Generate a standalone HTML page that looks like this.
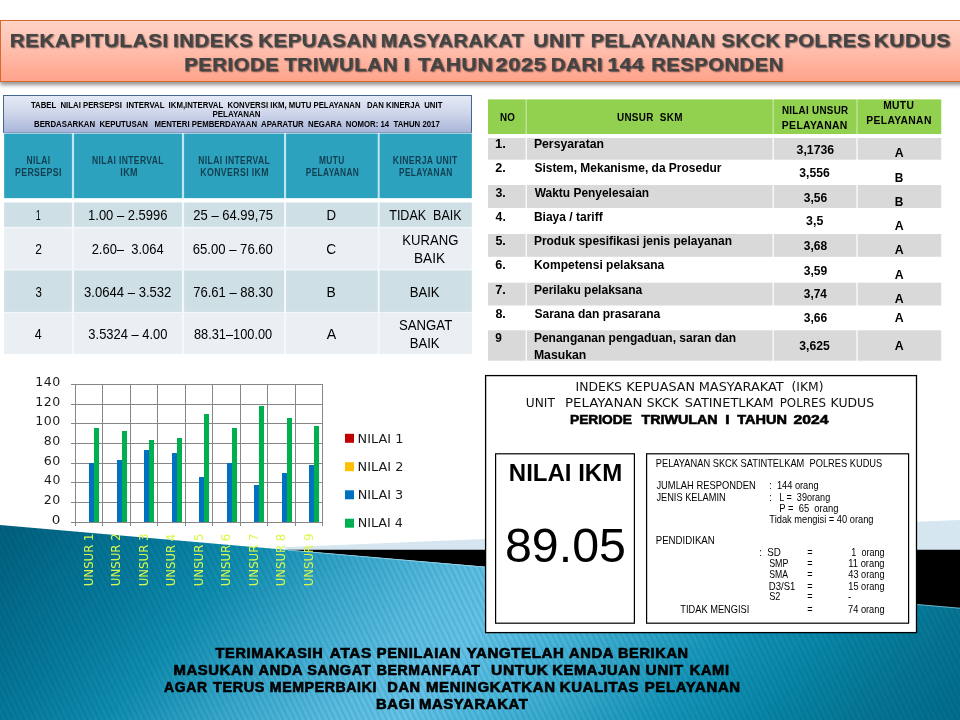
<!DOCTYPE html>
<html lang="id">
<head>
<meta charset="utf-8">
<title>Rekapitulasi Indeks Kepuasan Masyarakat - SKCK Polres Kudus</title>
<style>
html,body{margin:0;padding:0;background:#fff;}
body{width:960px;height:720px;position:relative;overflow:hidden;font-family:"Liberation Sans",sans-serif;}
.abs{position:absolute;}
.t{position:absolute;left:0;top:0;line-height:1;white-space:pre;transform-origin:0 0;margin:0;padding:0;}
section,header,footer{position:absolute;left:0;top:0;width:0;height:0;}
#bg{position:absolute;left:0;top:0;width:960px;height:720px;}
#banner-box{position:absolute;left:0;top:19.8px;width:966px;height:62.2px;box-sizing:border-box;border:1.2px solid #d46a2e;
  background:linear-gradient(#ffd3c7 0%,#ffbfae 45%,#ffa38a 100%);box-shadow:0 3px 4px rgba(0,0,0,.42);}
#banner .t{text-shadow:1px 1px 1.5px rgba(0,0,0,.55);}
#cap-box{position:absolute;left:3px;top:95px;width:469px;height:37.6px;box-sizing:border-box;border:1.1px solid #44668f;border-bottom-color:#8a9ac0;
  background:linear-gradient(#e6eaf6 0%,#cdd5ea 50%,#a9b6da 100%);}
.cell{position:absolute;}
</style>
</head>
<body>
<svg id="bg" width="960" height="720" viewBox="0 0 960 720">
  <defs>
    <linearGradient id="tg" gradientUnits="userSpaceOnUse" x1="229.8" y1="192.8" x2="995.9" y2="835.6">
      <stop offset="0.0" stop-color="#025a76"/>
      <stop offset="0.062" stop-color="#026483"/>
      <stop offset="0.168" stop-color="#067a9d"/>
      <stop offset="0.243" stop-color="#0f8daf"/>
      <stop offset="0.335" stop-color="#3aa9ce"/>
      <stop offset="0.416" stop-color="#5abde1"/>
      <stop offset="0.47" stop-color="#64c3e8"/>
      <stop offset="0.523" stop-color="#4db9de"/>
      <stop offset="0.595" stop-color="#32a7ca"/>
      <stop offset="0.664" stop-color="#1595b9"/>
      <stop offset="0.757" stop-color="#0783a4"/>
      <stop offset="0.822" stop-color="#067694"/>
      <stop offset="0.882" stop-color="#026e8f"/>
      <stop offset="1.0" stop-color="#026483"/>
    </linearGradient>
    <pattern id="st" width="5.75" height="20" patternUnits="userSpaceOnUse" patternTransform="skewX(26)">
      <rect x="0" y="0" width="2.3" height="20" fill="#002a3c" fill-opacity="0.11"/>
    </pattern>
  </defs>
  <polygon points="283,547.2 960,520 960,551 290,551" fill="#d6e6f0"/>
  <polygon points="286,549.7 960,549.7 960,609 500,568" fill="#000"/>
  <polygon points="0,525 960,608 960,720 0,720" fill="url(#tg)"/>
  <polygon points="0,525 960,608 960,720 0,720" fill="url(#st)"/>
  <line x1="288" y1="550.1" x2="960" y2="608.2" stroke="#9fd9ee" stroke-width="0.9" stroke-opacity="0.75"/>
</svg>

<header id="banner">
  <div id="banner-box"></div>
<div class="t" style="font-size:17.8px;color:#444444;transform:translate(9.73px,33.10px) scaleX(1.1574);font-weight:bold;letter-spacing:0.5px;-webkit-text-stroke:0.25px #444444;">REKAPITULASI</div>
<div class="t" style="font-size:17.8px;color:#444444;transform:translate(173.04px,33.10px) scaleX(1.1430);font-weight:bold;letter-spacing:0.5px;-webkit-text-stroke:0.25px #444444;">INDEKS</div>
<div class="t" style="font-size:17.8px;color:#444444;transform:translate(258.24px,33.10px) scaleX(1.1450);font-weight:bold;letter-spacing:0.5px;-webkit-text-stroke:0.25px #444444;">KEPUASAN</div>
<div class="t" style="font-size:17.8px;color:#444444;transform:translate(380.77px,33.10px) scaleX(1.1179);font-weight:bold;letter-spacing:0.5px;-webkit-text-stroke:0.25px #444444;">MASYARAKAT</div>
<div class="t" style="font-size:17.8px;color:#444444;transform:translate(533.32px,33.10px) scaleX(1.1779);font-weight:bold;letter-spacing:0.5px;-webkit-text-stroke:0.25px #444444;">UNIT</div>
<div class="t" style="font-size:17.8px;color:#444444;transform:translate(590.77px,33.10px) scaleX(1.1150);font-weight:bold;letter-spacing:0.5px;-webkit-text-stroke:0.25px #444444;">PELAYANAN</div>
<div class="t" style="font-size:17.8px;color:#444444;transform:translate(721.43px,33.10px) scaleX(1.1310);font-weight:bold;letter-spacing:0.5px;-webkit-text-stroke:0.25px #444444;">SKCK</div>
<div class="t" style="font-size:17.8px;color:#444444;transform:translate(784.25px,33.10px) scaleX(1.1364);font-weight:bold;letter-spacing:0.5px;-webkit-text-stroke:0.25px #444444;">POLRES</div>
<div class="t" style="font-size:17.8px;color:#444444;transform:translate(873.71px,33.10px) scaleX(1.1729);font-weight:bold;letter-spacing:0.5px;-webkit-text-stroke:0.25px #444444;">KUDUS</div>
<div class="t" style="font-size:17.8px;color:#444444;transform:translate(184.25px,56.90px) scaleX(1.1371);font-weight:bold;letter-spacing:0.5px;-webkit-text-stroke:0.25px #444444;">PERIODE</div>
<div class="t" style="font-size:17.8px;color:#444444;transform:translate(284.27px,56.90px) scaleX(1.1519);font-weight:bold;letter-spacing:0.5px;-webkit-text-stroke:0.25px #444444;">TRIWULAN</div>
<div class="t" style="font-size:17.8px;color:#444444;transform:translate(403.41px,56.90px) scaleX(1.2593);font-weight:bold;letter-spacing:0.5px;-webkit-text-stroke:0.25px #444444;">I</div>
<div class="t" style="font-size:17.8px;color:#444444;transform:translate(417.76px,56.90px) scaleX(1.1929);font-weight:bold;letter-spacing:0.5px;-webkit-text-stroke:0.25px #444444;">TAHUN</div>
<div class="t" style="font-size:17.8px;color:#444444;transform:translate(495.56px,56.90px) scaleX(1.2270);font-weight:bold;letter-spacing:0.5px;-webkit-text-stroke:0.25px #444444;">2025</div>
<div class="t" style="font-size:17.8px;color:#444444;transform:translate(550.73px,56.90px) scaleX(1.1528);font-weight:bold;letter-spacing:0.5px;-webkit-text-stroke:0.25px #444444;">DARI</div>
<div class="t" style="font-size:17.8px;color:#444444;transform:translate(607.50px,56.90px) scaleX(1.1825);font-weight:bold;letter-spacing:0.5px;-webkit-text-stroke:0.25px #444444;">144</div>
<div class="t" style="font-size:17.8px;color:#444444;transform:translate(651.26px,56.90px) scaleX(1.1310);font-weight:bold;letter-spacing:0.5px;-webkit-text-stroke:0.25px #444444;">RESPONDEN</div>
</header>

<section id="tbl-left">
  <div id="cap-box"></div>
<svg class="abs" style="left:0;top:0" width="960" height="400" viewBox="0 0 960 400">
<rect x="4.2" y="133.6" width="467.6" height="64.5" fill="#bfe6f0"/>
<rect x="4.2" y="202.5" width="467.6" height="151.5" fill="#f4f8fa"/>
<rect x="4.2" y="133.6" width="67.7" height="64.5" fill="#2da2bf"/>
<rect x="74.1" y="133.6" width="107.8" height="64.5" fill="#2da2bf"/>
<rect x="184.1" y="133.6" width="99.9" height="64.5" fill="#2da2bf"/>
<rect x="286.1" y="133.6" width="91.6" height="64.5" fill="#2da2bf"/>
<rect x="379.7" y="133.6" width="92.1" height="64.5" fill="#2da2bf"/>
<rect x="4.2" y="202.5" width="67.7" height="24.3" fill="#cfdfe6"/>
<rect x="74.1" y="202.5" width="107.8" height="24.3" fill="#cfdfe6"/>
<rect x="184.1" y="202.5" width="99.9" height="24.3" fill="#cfdfe6"/>
<rect x="286.1" y="202.5" width="91.6" height="24.3" fill="#cfdfe6"/>
<rect x="379.7" y="202.5" width="92.1" height="24.3" fill="#cfdfe6"/>
<rect x="4.2" y="228.4" width="67.7" height="40.7" fill="#e9eff3"/>
<rect x="74.1" y="228.4" width="107.8" height="40.7" fill="#e9eff3"/>
<rect x="184.1" y="228.4" width="99.9" height="40.7" fill="#e9eff3"/>
<rect x="286.1" y="228.4" width="91.6" height="40.7" fill="#e9eff3"/>
<rect x="379.7" y="228.4" width="92.1" height="40.7" fill="#e9eff3"/>
<rect x="4.2" y="270.4" width="67.7" height="41.5" fill="#cfdfe6"/>
<rect x="74.1" y="270.4" width="107.8" height="41.5" fill="#cfdfe6"/>
<rect x="184.1" y="270.4" width="99.9" height="41.5" fill="#cfdfe6"/>
<rect x="286.1" y="270.4" width="91.6" height="41.5" fill="#cfdfe6"/>
<rect x="379.7" y="270.4" width="92.1" height="41.5" fill="#cfdfe6"/>
<rect x="4.2" y="312.9" width="67.7" height="41.1" fill="#e9eff3"/>
<rect x="74.1" y="312.9" width="107.8" height="41.1" fill="#e9eff3"/>
<rect x="184.1" y="312.9" width="99.9" height="41.1" fill="#e9eff3"/>
<rect x="286.1" y="312.9" width="91.6" height="41.1" fill="#e9eff3"/>
<rect x="379.7" y="312.9" width="92.1" height="41.1" fill="#e9eff3"/>
</svg>
<div class="t" style="font-size:9.6px;color:#000;transform:translate(30.92px,99.70px) scaleX(0.8114);font-weight:bold;">TABEL  NILAI PERSEPSI  INTERVAL  IKM,INTERVAL  KONVERSI IKM, MUTU PELAYANAN   DAN KINERJA  UNIT</div>
<div class="t" style="font-size:9.6px;color:#000;transform:translate(212.50px,109.00px) scaleX(0.8283);font-weight:bold;">PELAYANAN</div>
<div class="t" style="font-size:9.6px;color:#000;transform:translate(34.01px,118.70px) scaleX(0.8129);font-weight:bold;">BERDASARKAN  KEPUTUSAN   MENTERI PEMBERDAYAAN  APARATUR  NEGARA  NOMOR: 14  TAHUN 2017</div>
<div class="t" style="font-size:10.3px;color:#123e50;transform:translate(26.51px,156.35px) scaleX(0.8203);font-weight:bold;letter-spacing:0.45px;">NILAI</div>
<div class="t" style="font-size:10.3px;color:#123e50;transform:translate(14.99px,167.85px) scaleX(0.8482);font-weight:bold;letter-spacing:0.45px;">PERSEPSI</div>
<div class="t" style="font-size:10.3px;color:#123e50;transform:translate(92.00px,156.35px) scaleX(0.8304);font-weight:bold;letter-spacing:0.45px;">NILAI INTERVAL</div>
<div class="t" style="font-size:10.3px;color:#123e50;transform:translate(120.27px,167.85px) scaleX(0.8757);font-weight:bold;letter-spacing:0.45px;">IKM</div>
<div class="t" style="font-size:10.3px;color:#123e50;transform:translate(198.30px,156.35px) scaleX(0.8292);font-weight:bold;letter-spacing:0.45px;">NILAI INTERVAL</div>
<div class="t" style="font-size:10.3px;color:#123e50;transform:translate(200.29px,167.85px) scaleX(0.8484);font-weight:bold;letter-spacing:0.45px;">KONVERSI IKM</div>
<div class="t" style="font-size:10.3px;color:#123e50;transform:translate(319.01px,156.35px) scaleX(0.8111);font-weight:bold;letter-spacing:0.45px;">MUTU</div>
<div class="t" style="font-size:10.3px;color:#123e50;transform:translate(305.82px,167.85px) scaleX(0.8054);font-weight:bold;letter-spacing:0.45px;">PELAYANAN</div>
<div class="t" style="font-size:10.3px;color:#123e50;transform:translate(392.80px,156.35px) scaleX(0.8407);font-weight:bold;letter-spacing:0.45px;">KINERJA UNIT</div>
<div class="t" style="font-size:10.3px;color:#123e50;transform:translate(399.01px,167.85px) scaleX(0.8100);font-weight:bold;letter-spacing:0.45px;">PELAYANAN</div>
<div class="t" style="font-size:14.4px;color:#000;transform:translate(35.67px,207.80px) scaleX(0.6250);">1</div>
<div class="t" style="font-size:14.4px;color:#000;transform:translate(88.10px,207.80px) scaleX(0.9009);">1.00 – 2.5996</div>
<div class="t" style="font-size:14.4px;color:#000;transform:translate(193.37px,207.80px) scaleX(0.9036);">25 – 64.99,75</div>
<div class="t" style="font-size:14.4px;color:#000;transform:translate(326.49px,207.80px) scaleX(0.9195);">D</div>
<div class="t" style="font-size:14.4px;color:#000;transform:translate(389.24px,207.80px) scaleX(0.8694);">TIDAK  BAIK</div>
<div class="t" style="font-size:14.4px;color:#000;transform:translate(35.22px,241.60px) scaleX(0.8333);">2</div>
<div class="t" style="font-size:14.4px;color:#000;transform:translate(91.67px,241.60px) scaleX(0.8992);">2.60–  3.064</div>
<div class="t" style="font-size:14.4px;color:#000;transform:translate(192.66px,241.60px) scaleX(0.9117);">65.00 – 76.60</div>
<div class="t" style="font-size:14.4px;color:#000;transform:translate(326.33px,241.60px) scaleX(0.9565);">C</div>
<div class="t" style="font-size:14.4px;color:#000;transform:translate(402.30px,232.80px) scaleX(0.9108);">KURANG</div>
<div class="t" style="font-size:14.4px;color:#000;transform:translate(413.96px,250.80px) scaleX(0.9491);">BAIK</div>
<div class="t" style="font-size:14.4px;color:#000;transform:translate(35.40px,284.60px) scaleX(0.7971);">3</div>
<div class="t" style="font-size:14.4px;color:#000;transform:translate(84.05px,284.60px) scaleX(0.9096);">3.0644 – 3.532</div>
<div class="t" style="font-size:14.4px;color:#000;transform:translate(193.17px,284.60px) scaleX(0.9059);">76.61 – 88.30</div>
<div class="t" style="font-size:14.4px;color:#000;transform:translate(326.44px,284.60px) scaleX(0.9615);">B</div>
<div class="t" style="font-size:14.4px;color:#000;transform:translate(409.80px,284.60px) scaleX(0.9079);">BAIK</div>
<div class="t" style="font-size:14.4px;color:#000;transform:translate(34.74px,326.60px) scaleX(0.8630);">4</div>
<div class="t" style="font-size:14.4px;color:#000;transform:translate(88.35px,326.60px) scaleX(0.8981);">3.5324 – 4.00</div>
<div class="t" style="font-size:14.4px;color:#000;transform:translate(193.97px,326.60px) scaleX(0.8887);">88.31–100.00</div>
<div class="t" style="font-size:14.4px;color:#000;transform:translate(326.80px,326.60px) scaleX(0.9896);">A</div>
<div class="t" style="font-size:14.4px;color:#000;transform:translate(398.95px,318.10px) scaleX(0.9171);">SANGAT</div>
<div class="t" style="font-size:14.4px;color:#000;transform:translate(409.80px,336.20px) scaleX(0.9079);">BAIK</div>
</section>

<section id="tbl-right">
<svg class="abs" style="left:0;top:0" width="960" height="400" viewBox="0 0 960 400">
<rect x="488" y="99.5" width="453.2" height="34.5" fill="#c9e8a8"/>
<rect x="488" y="99.5" width="37.6" height="34.5" fill="#92d050"/>
<rect x="526.8000000000001" y="99.5" width="245.8" height="34.5" fill="#92d050"/>
<rect x="773.8000000000001" y="99.5" width="82.6" height="34.5" fill="#92d050"/>
<rect x="857.6" y="99.5" width="83.6" height="34.5" fill="#92d050"/>
<rect x="488" y="138" width="37.6" height="21.7" fill="#d9d9d9"/>
<rect x="526.8000000000001" y="138" width="245.8" height="21.7" fill="#d9d9d9"/>
<rect x="773.8000000000001" y="138" width="82.6" height="21.7" fill="#d9d9d9"/>
<rect x="857.6" y="138" width="83.6" height="21.7" fill="#d9d9d9"/>
<rect x="488" y="185" width="37.6" height="23" fill="#d9d9d9"/>
<rect x="526.8000000000001" y="185" width="245.8" height="23" fill="#d9d9d9"/>
<rect x="773.8000000000001" y="185" width="82.6" height="23" fill="#d9d9d9"/>
<rect x="857.6" y="185" width="83.6" height="23" fill="#d9d9d9"/>
<rect x="488" y="234" width="37.6" height="22.8" fill="#d9d9d9"/>
<rect x="526.8000000000001" y="234" width="245.8" height="22.8" fill="#d9d9d9"/>
<rect x="773.8000000000001" y="234" width="82.6" height="22.8" fill="#d9d9d9"/>
<rect x="857.6" y="234" width="83.6" height="22.8" fill="#d9d9d9"/>
<rect x="488" y="282.7" width="37.6" height="22.8" fill="#d9d9d9"/>
<rect x="526.8000000000001" y="282.7" width="245.8" height="22.8" fill="#d9d9d9"/>
<rect x="773.8000000000001" y="282.7" width="82.6" height="22.8" fill="#d9d9d9"/>
<rect x="857.6" y="282.7" width="83.6" height="22.8" fill="#d9d9d9"/>
<rect x="488" y="330.3" width="37.6" height="30.4" fill="#d9d9d9"/>
<rect x="526.8000000000001" y="330.3" width="245.8" height="30.4" fill="#d9d9d9"/>
<rect x="773.8000000000001" y="330.3" width="82.6" height="30.4" fill="#d9d9d9"/>
<rect x="857.6" y="330.3" width="83.6" height="30.4" fill="#d9d9d9"/>
</svg>
<div class="t" style="font-size:11.2px;color:#000;transform:translate(499.89px,111.70px) scaleX(0.8729);font-weight:bold;letter-spacing:0.35px;">NO</div>
<div class="t" style="font-size:11.2px;color:#000;transform:translate(616.97px,111.70px) scaleX(0.8838);font-weight:bold;letter-spacing:0.35px;">UNSUR  SKM</div>
<div class="t" style="font-size:11.2px;color:#000;transform:translate(781.89px,104.70px) scaleX(0.8758);font-weight:bold;letter-spacing:0.35px;">NILAI UNSUR</div>
<div class="t" style="font-size:11.2px;color:#000;transform:translate(781.85px,119.70px) scaleX(0.9312);font-weight:bold;letter-spacing:0.35px;">PELAYANAN</div>
<div class="t" style="font-size:11.2px;color:#000;transform:translate(883.16px,99.70px) scaleX(0.9187);font-weight:bold;letter-spacing:0.35px;">MUTU</div>
<div class="t" style="font-size:11.2px;color:#000;transform:translate(866.35px,114.70px) scaleX(0.9240);font-weight:bold;letter-spacing:0.35px;">PELAYANAN</div>
<div class="t" style="font-size:12.2px;color:#000;transform:translate(494.95px,137.90px) scaleX(1.0708);font-weight:bold;">1.</div>
<div class="t" style="font-size:12.2px;color:#000;transform:translate(533.90px,137.90px) scaleX(1.0043);font-weight:bold;">Persyaratan</div>
<div class="t" style="font-size:12.2px;color:#000;transform:translate(796.60px,143.50px) scaleX(1.0074);font-weight:bold;">3,1736</div>
<div class="t" style="font-size:12.2px;color:#000;transform:translate(894.70px,146.90px) scaleX(1.0122);font-weight:bold;">A</div>
<div class="t" style="font-size:12.2px;color:#000;transform:translate(495.29px,161.90px) scaleX(1.0351);font-weight:bold;">2.</div>
<div class="t" style="font-size:12.2px;color:#000;transform:translate(534.41px,161.90px) scaleX(0.9827);font-weight:bold;">Sistem, Mekanisme, da Prosedur</div>
<div class="t" style="font-size:12.2px;color:#000;transform:translate(799.30px,166.70px) scaleX(0.9952);font-weight:bold;">3,556</div>
<div class="t" style="font-size:12.2px;color:#000;transform:translate(894.72px,171.90px) scaleX(0.9733);font-weight:bold;">B</div>
<div class="t" style="font-size:12.2px;color:#000;transform:translate(495.50px,187.00px) scaleX(1.0125);font-weight:bold;">3.</div>
<div class="t" style="font-size:12.2px;color:#000;transform:translate(534.70px,187.00px) scaleX(0.9802);font-weight:bold;">Waktu Penyelesaian</div>
<div class="t" style="font-size:12.2px;color:#000;transform:translate(803.80px,191.50px) scaleX(0.9888);font-weight:bold;">3,56</div>
<div class="t" style="font-size:12.2px;color:#000;transform:translate(894.72px,195.70px) scaleX(0.9733);font-weight:bold;">B</div>
<div class="t" style="font-size:12.2px;color:#000;transform:translate(495.60px,211.20px) scaleX(1.0016);font-weight:bold;">4.</div>
<div class="t" style="font-size:12.2px;color:#000;transform:translate(533.91px,211.20px) scaleX(0.9859);font-weight:bold;">Biaya / tariff</div>
<div class="t" style="font-size:12.2px;color:#000;transform:translate(806.10px,214.90px) scaleX(1.0137);font-weight:bold;">3,5</div>
<div class="t" style="font-size:12.2px;color:#000;transform:translate(894.70px,219.90px) scaleX(1.0122);font-weight:bold;">A</div>
<div class="t" style="font-size:12.2px;color:#000;transform:translate(495.39px,235.20px) scaleX(1.0237);font-weight:bold;">5.</div>
<div class="t" style="font-size:12.2px;color:#000;transform:translate(533.91px,235.20px) scaleX(0.9815);font-weight:bold;">Produk spesifikasi jenis pelayanan</div>
<div class="t" style="font-size:12.2px;color:#000;transform:translate(803.80px,240.40px) scaleX(0.9845);font-weight:bold;">3,68</div>
<div class="t" style="font-size:12.2px;color:#000;transform:translate(894.70px,244.20px) scaleX(1.0122);font-weight:bold;">A</div>
<div class="t" style="font-size:12.2px;color:#000;transform:translate(495.29px,258.90px) scaleX(1.0351);font-weight:bold;">6.</div>
<div class="t" style="font-size:12.2px;color:#000;transform:translate(533.91px,258.90px) scaleX(0.9868);font-weight:bold;">Kompetensi pelaksana</div>
<div class="t" style="font-size:12.2px;color:#000;transform:translate(803.80px,264.50px) scaleX(0.9888);font-weight:bold;">3,59</div>
<div class="t" style="font-size:12.2px;color:#000;transform:translate(894.70px,268.70px) scaleX(1.0122);font-weight:bold;">A</div>
<div class="t" style="font-size:12.2px;color:#000;transform:translate(495.18px,283.70px) scaleX(1.0467);font-weight:bold;">7.</div>
<div class="t" style="font-size:12.2px;color:#000;transform:translate(533.91px,283.70px) scaleX(0.9874);font-weight:bold;">Perilaku pelaksana</div>
<div class="t" style="font-size:12.2px;color:#000;transform:translate(803.81px,287.90px) scaleX(0.9720);font-weight:bold;">3,74</div>
<div class="t" style="font-size:12.2px;color:#000;transform:translate(894.70px,292.90px) scaleX(1.0122);font-weight:bold;">A</div>
<div class="t" style="font-size:12.2px;color:#000;transform:translate(495.39px,308.10px) scaleX(1.0237);font-weight:bold;">8.</div>
<div class="t" style="font-size:12.2px;color:#000;transform:translate(534.40px,308.10px) scaleX(0.9882);font-weight:bold;">Sarana dan prasarana</div>
<div class="t" style="font-size:12.2px;color:#000;transform:translate(803.80px,311.70px) scaleX(0.9888);font-weight:bold;">3,66</div>
<div class="t" style="font-size:12.2px;color:#000;transform:translate(894.70px,311.70px) scaleX(1.0122);font-weight:bold;">A</div>
<div class="t" style="font-size:12.2px;color:#000;transform:translate(495.31px,331.70px) scaleX(0.9667);font-weight:bold;">9</div>
<div class="t" style="font-size:12.2px;color:#000;transform:translate(533.91px,331.70px) scaleX(0.9850);font-weight:bold;">Penanganan pengaduan, saran dan</div>
<div class="t" style="font-size:12.2px;color:#000;transform:translate(799.30px,339.90px) scaleX(0.9985);font-weight:bold;">3,625</div>
<div class="t" style="font-size:12.2px;color:#000;transform:translate(894.70px,339.90px) scaleX(1.0122);font-weight:bold;">A</div>
<div class="t" style="font-size:12.2px;color:#000;transform:translate(533.90px,348.70px) scaleX(1.0029);font-weight:bold;">Masukan</div>
</section>

<section id="chart">
<svg class="abs" style="left:0;top:0" width="480" height="540" viewBox="0 0 480 540">
<rect x="75.5" y="384.5" width="247.0" height="137.79999999999995" fill="#fff"/>
<g stroke="#868686" stroke-width="1" fill="none" shape-rendering="crispEdges">
<line x1="70.5" y1="384.50" x2="322.5" y2="384.50"/>
<line x1="70.5" y1="404.19" x2="322.5" y2="404.19"/>
<line x1="70.5" y1="423.87" x2="322.5" y2="423.87"/>
<line x1="70.5" y1="443.56" x2="322.5" y2="443.56"/>
<line x1="70.5" y1="463.24" x2="322.5" y2="463.24"/>
<line x1="70.5" y1="482.93" x2="322.5" y2="482.93"/>
<line x1="70.5" y1="502.61" x2="322.5" y2="502.61"/>
<line x1="70.5" y1="522.30" x2="322.5" y2="522.30"/>
<line x1="75.50" y1="384.5" x2="75.50" y2="526.3"/>
<line x1="102.94" y1="384.5" x2="102.94" y2="526.3"/>
<line x1="130.39" y1="384.5" x2="130.39" y2="526.3"/>
<line x1="157.83" y1="384.5" x2="157.83" y2="526.3"/>
<line x1="185.28" y1="384.5" x2="185.28" y2="526.3"/>
<line x1="212.72" y1="384.5" x2="212.72" y2="526.3"/>
<line x1="240.17" y1="384.5" x2="240.17" y2="526.3"/>
<line x1="267.61" y1="384.5" x2="267.61" y2="526.3"/>
<line x1="295.06" y1="384.5" x2="295.06" y2="526.3"/>
<line x1="322.50" y1="384.5" x2="322.50" y2="526.3"/>
</g>
<g shape-rendering="crispEdges">
<rect x="89.00" y="463.24" width="5" height="59.06" fill="#0070c0"/>
<rect x="94.00" y="428.30" width="5" height="94.00" fill="#00b050"/>
<rect x="117.00" y="460.29" width="5" height="62.01" fill="#0070c0"/>
<rect x="122.00" y="431.25" width="5" height="91.05" fill="#00b050"/>
<rect x="144.00" y="450.45" width="5" height="71.85" fill="#0070c0"/>
<rect x="149.00" y="440.11" width="5" height="82.19" fill="#00b050"/>
<rect x="172.00" y="453.40" width="5" height="68.90" fill="#0070c0"/>
<rect x="177.00" y="438.14" width="5" height="84.16" fill="#00b050"/>
<rect x="199.00" y="476.73" width="5" height="45.57" fill="#0070c0"/>
<rect x="204.00" y="414.03" width="5" height="108.27" fill="#00b050"/>
<rect x="227.00" y="463.24" width="5" height="59.06" fill="#0070c0"/>
<rect x="232.00" y="428.30" width="5" height="94.00" fill="#00b050"/>
<rect x="254.00" y="485.39" width="5" height="36.91" fill="#0070c0"/>
<rect x="259.00" y="406.15" width="5" height="116.15" fill="#00b050"/>
<rect x="282.00" y="473.09" width="5" height="49.21" fill="#0070c0"/>
<rect x="287.00" y="418.46" width="5" height="103.84" fill="#00b050"/>
<rect x="309.00" y="465.21" width="5" height="57.09" fill="#0070c0"/>
<rect x="314.00" y="426.33" width="5" height="95.97" fill="#00b050"/>
</g>
<rect x="345" y="433.8" width="9" height="9" fill="#c00000"/>
<rect x="345" y="462.2" width="9" height="9" fill="#ffc000"/>
<rect x="345" y="490.3" width="9" height="9" fill="#0070c0"/>
<rect x="345" y="518.7" width="9" height="9" fill="#00b050"/>
</svg>
<div class="t" style="font-size:11.6px;color:#1a1a1a;transform:translate(35.30px,376.90px) scaleX(1.0818);font-family:'DejaVu Sans','Liberation Sans',sans-serif;letter-spacing:0.5px;">140</div>
<div class="t" style="font-size:11.6px;color:#1a1a1a;transform:translate(35.30px,396.59px) scaleX(1.0818);font-family:'DejaVu Sans','Liberation Sans',sans-serif;letter-spacing:0.5px;">120</div>
<div class="t" style="font-size:11.6px;color:#1a1a1a;transform:translate(35.30px,416.27px) scaleX(1.0818);font-family:'DejaVu Sans','Liberation Sans',sans-serif;letter-spacing:0.5px;">100</div>
<div class="t" style="font-size:11.6px;color:#1a1a1a;transform:translate(43.84px,435.96px) scaleX(1.0807);font-family:'DejaVu Sans','Liberation Sans',sans-serif;letter-spacing:0.5px;">80</div>
<div class="t" style="font-size:11.6px;color:#1a1a1a;transform:translate(43.73px,455.64px) scaleX(1.0885);font-family:'DejaVu Sans','Liberation Sans',sans-serif;letter-spacing:0.5px;">60</div>
<div class="t" style="font-size:11.6px;color:#1a1a1a;transform:translate(44.07px,475.33px) scaleX(1.0653);font-family:'DejaVu Sans','Liberation Sans',sans-serif;letter-spacing:0.5px;">40</div>
<div class="t" style="font-size:11.6px;color:#1a1a1a;transform:translate(43.73px,495.01px) scaleX(1.0885);font-family:'DejaVu Sans','Liberation Sans',sans-serif;letter-spacing:0.5px;">20</div>
<div class="t" style="font-size:11.6px;color:#1a1a1a;transform:translate(51.78px,514.70px) scaleX(1.1667);font-family:'DejaVu Sans','Liberation Sans',sans-serif;letter-spacing:0.5px;">0</div>
<div class="t" style="font-size:12px;color:#1a1a1a;transform:translate(357.62px,432.50px) scaleX(1.0706);font-family:'DejaVu Sans','Liberation Sans',sans-serif;">NILAI 1</div>
<div class="t" style="font-size:12px;color:#1a1a1a;transform:translate(357.62px,460.90px) scaleX(1.0732);font-family:'DejaVu Sans','Liberation Sans',sans-serif;">NILAI 2</div>
<div class="t" style="font-size:12px;color:#1a1a1a;transform:translate(357.63px,489.00px) scaleX(1.0679);font-family:'DejaVu Sans','Liberation Sans',sans-serif;">NILAI 3</div>
<div class="t" style="font-size:12px;color:#1a1a1a;transform:translate(357.63px,517.40px) scaleX(1.0601);font-family:'DejaVu Sans','Liberation Sans',sans-serif;">NILAI 4</div>
<div class="t" style="font-size:12.7px;color:#d8fa4c;transform:translate(93.82px,585.20px) rotate(-90deg) scaleX(0.9251) translate(-1.10px,-10.85px);font-family:'DejaVu Sans','Liberation Sans',sans-serif;">UNSUR 1</div>
<div class="t" style="font-size:12.7px;color:#d8fa4c;transform:translate(121.27px,585.20px) rotate(-90deg) scaleX(0.9268) translate(-1.10px,-10.85px);font-family:'DejaVu Sans','Liberation Sans',sans-serif;">UNSUR 2</div>
<div class="t" style="font-size:12.7px;color:#d8fa4c;transform:translate(148.71px,585.20px) rotate(-90deg) scaleX(0.9234) translate(-1.10px,-10.85px);font-family:'DejaVu Sans','Liberation Sans',sans-serif;">UNSUR 3</div>
<div class="t" style="font-size:12.7px;color:#d8fa4c;transform:translate(176.16px,585.20px) rotate(-90deg) scaleX(0.9184) translate(-1.10px,-10.85px);font-family:'DejaVu Sans','Liberation Sans',sans-serif;">UNSUR 4</div>
<div class="t" style="font-size:12.7px;color:#d8fa4c;transform:translate(203.60px,585.20px) rotate(-90deg) scaleX(0.9251) translate(-1.10px,-10.85px);font-family:'DejaVu Sans','Liberation Sans',sans-serif;">UNSUR 5</div>
<div class="t" style="font-size:12.7px;color:#d8fa4c;transform:translate(231.04px,585.20px) rotate(-90deg) scaleX(0.9201) translate(-1.10px,-10.85px);font-family:'DejaVu Sans','Liberation Sans',sans-serif;">UNSUR 6</div>
<div class="t" style="font-size:12.7px;color:#d8fa4c;transform:translate(258.49px,585.20px) rotate(-90deg) scaleX(0.9251) translate(-1.10px,-10.85px);font-family:'DejaVu Sans','Liberation Sans',sans-serif;">UNSUR 7</div>
<div class="t" style="font-size:12.7px;color:#d8fa4c;transform:translate(285.93px,585.20px) rotate(-90deg) scaleX(0.9201) translate(-1.10px,-10.85px);font-family:'DejaVu Sans','Liberation Sans',sans-serif;">UNSUR 8</div>
<div class="t" style="font-size:12.7px;color:#d8fa4c;transform:translate(313.38px,585.20px) rotate(-90deg) scaleX(0.9217) translate(-1.10px,-10.85px);font-family:'DejaVu Sans','Liberation Sans',sans-serif;">UNSUR 9</div>
</section>

<section id="ikm">
  <svg class="abs" style="left:0;top:0" width="960" height="720" viewBox="0 0 960 720">
    <rect x="485.6" y="375.6" width="430.9" height="257" fill="#fff" stroke="#000" stroke-width="1.3"/>
    <rect x="495.6" y="453.8" width="138.8" height="169.4" fill="#fff" stroke="#000" stroke-width="1.2"/>
    <rect x="646.6" y="453.8" width="262" height="169.4" fill="#fff" stroke="#000" stroke-width="1.2"/>
  </svg>
<div class="t" style="font-size:23.8px;color:#000;transform:translate(508.79px,460.90px) scaleX(1.0096);font-weight:bold;">NILAI IKM</div>
<div class="t" style="font-size:47.8px;color:#000;transform:translate(504.99px,521.80px) scaleX(1.0113);">89.05</div>
<div class="t" style="font-size:10.1px;color:#000;transform:translate(655.76px,458.65px) scaleX(0.9198);">PELAYANAN SKCK SATINTELKAM  POLRES KUDUS</div>
<div class="t" style="font-size:10.1px;color:#000;transform:translate(656.41px,480.65px) scaleX(0.9267);">JUMLAH RESPONDEN</div>
<div class="t" style="font-size:10.1px;color:#000;transform:translate(769.18px,480.65px) scaleX(0.9162);">:  144 orang</div>
<div class="t" style="font-size:10.1px;color:#000;transform:translate(656.41px,492.75px) scaleX(0.9148);">JENIS KELAMIN</div>
<div class="t" style="font-size:10.1px;color:#000;transform:translate(769.19px,492.75px) scaleX(0.8995);">:   L =  39orang</div>
<div class="t" style="font-size:10.1px;color:#000;transform:translate(779.26px,503.65px) scaleX(0.9308);">P =  65  orang</div>
<div class="t" style="font-size:10.1px;color:#000;transform:translate(769.32px,514.95px) scaleX(0.9200);">Tidak mengisi = 40 orang</div>
<div class="t" style="font-size:10.1px;color:#000;transform:translate(655.74px,536.45px) scaleX(0.9561);">PENDIDIKAN</div>
<div class="t" style="font-size:10.1px;color:#000;transform:translate(759.13px,548.45px) scaleX(0.9690);">:  SD</div>
<div class="t" style="font-size:10.1px;color:#000;transform:translate(769.15px,559.45px) scaleX(0.8789);">SMP</div>
<div class="t" style="font-size:10.1px;color:#000;transform:translate(769.16px,570.45px) scaleX(0.8585);">SMA</div>
<div class="t" style="font-size:10.1px;color:#000;transform:translate(768.74px,581.75px) scaleX(0.9496);">D3/S1</div>
<div class="t" style="font-size:10.1px;color:#000;transform:translate(769.14px,592.45px) scaleX(0.9101);">S2</div>
<div class="t" style="font-size:10.1px;color:#000;transform:translate(680.32px,604.75px) scaleX(0.9178);">TIDAK MENGISI</div>
<div class="t" style="font-size:10.1px;color:#000;transform:translate(807.14px,548.45px) scaleX(0.9000);">=</div>
<div class="t" style="font-size:10.1px;color:#000;transform:translate(807.14px,559.45px) scaleX(0.9000);">=</div>
<div class="t" style="font-size:10.1px;color:#000;transform:translate(807.14px,570.45px) scaleX(0.9000);">=</div>
<div class="t" style="font-size:10.1px;color:#000;transform:translate(807.14px,581.75px) scaleX(0.9000);">=</div>
<div class="t" style="font-size:10.1px;color:#000;transform:translate(807.14px,592.45px) scaleX(0.9000);">=</div>
<div class="t" style="font-size:10.1px;color:#000;transform:translate(807.14px,604.75px) scaleX(0.9000);">=</div>
<div class="t" style="font-size:10.1px;color:#000;transform:translate(851.37px,548.45px) scaleX(0.8953);">1  orang</div>
<div class="t" style="font-size:10.1px;color:#000;transform:translate(848.35px,559.45px) scaleX(0.9258);">11 orang</div>
<div class="t" style="font-size:10.1px;color:#000;transform:translate(848.32px,570.45px) scaleX(0.9090);">43 orang</div>
<div class="t" style="font-size:10.1px;color:#000;transform:translate(848.36px,581.75px) scaleX(0.9078);">15 orang</div>
<div class="t" style="font-size:10.1px;color:#000;transform:translate(848.12px,592.45px) scaleX(0.9615);">-</div>
<div class="t" style="font-size:10.1px;color:#000;transform:translate(848.04px,604.75px) scaleX(0.9160);">74 orang</div>
<div class="t" style="font-size:12.4px;color:#111;transform:translate(575.60px,380.50px) scaleX(1.0012);font-family:'DejaVu Sans','Liberation Sans',sans-serif;">INDEKS</div>
<div class="t" style="font-size:12.4px;color:#111;transform:translate(626.27px,380.50px) scaleX(1.0281);font-family:'DejaVu Sans','Liberation Sans',sans-serif;">KEPUASAN</div>
<div class="t" style="font-size:12.4px;color:#111;transform:translate(698.75px,380.50px) scaleX(1.0387);font-family:'DejaVu Sans','Liberation Sans',sans-serif;">MASYARAKAT</div>
<div class="t" style="font-size:12.4px;color:#111;transform:translate(791.50px,380.50px) scaleX(0.9959);font-family:'DejaVu Sans','Liberation Sans',sans-serif;">(IKM)</div>
<div class="t" style="font-size:12.4px;color:#111;transform:translate(525.82px,397.10px) scaleX(0.9823);font-family:'DejaVu Sans','Liberation Sans',sans-serif;">UNIT</div>
<div class="t" style="font-size:12.4px;color:#111;transform:translate(565.01px,397.10px) scaleX(1.0748);font-family:'DejaVu Sans','Liberation Sans',sans-serif;">PELAYANAN</div>
<div class="t" style="font-size:12.4px;color:#111;transform:translate(646.71px,397.10px) scaleX(0.9911);font-family:'DejaVu Sans','Liberation Sans',sans-serif;">SKCK</div>
<div class="t" style="font-size:12.4px;color:#111;transform:translate(684.67px,397.10px) scaleX(1.0414);font-family:'DejaVu Sans','Liberation Sans',sans-serif;">SATINETLKAM</div>
<div class="t" style="font-size:12.4px;color:#111;transform:translate(779.65px,397.10px) scaleX(0.9593);font-family:'DejaVu Sans','Liberation Sans',sans-serif;">POLRES</div>
<div class="t" style="font-size:12.4px;color:#111;transform:translate(830.59px,397.10px) scaleX(1.0049);font-family:'DejaVu Sans','Liberation Sans',sans-serif;">KUDUS</div>
<div class="t" style="font-size:13.4px;color:#000;transform:translate(569.98px,412.80px) scaleX(1.0275);font-weight:bold;-webkit-text-stroke:0.6px #000;">PERIODE</div>
<div class="t" style="font-size:13.4px;color:#000;transform:translate(641.39px,412.80px) scaleX(1.0685);font-weight:bold;-webkit-text-stroke:0.6px #000;">TRIWULAN</div>
<div class="t" style="font-size:13.4px;color:#000;transform:translate(725.29px,412.80px) scaleX(1.1429);font-weight:bold;-webkit-text-stroke:0.6px #000;">I</div>
<div class="t" style="font-size:13.4px;color:#000;transform:translate(737.19px,412.80px) scaleX(1.0841);font-weight:bold;-webkit-text-stroke:0.6px #000;">TAHUN</div>
<div class="t" style="font-size:13.4px;color:#000;transform:translate(793.53px,412.80px) scaleX(1.1752);font-weight:bold;-webkit-text-stroke:0.6px #000;">2024</div>
</section>

<footer id="thanks">
<div class="t" style="font-size:13.9px;color:#000;transform:translate(215.60px,647.05px) scaleX(1.0444);font-weight:bold;letter-spacing:0.6px;-webkit-text-stroke:0.6px #000;">TERIMAKASIH</div>
<div class="t" style="font-size:13.9px;color:#000;transform:translate(329.87px,647.05px) scaleX(1.0977);font-weight:bold;letter-spacing:0.6px;-webkit-text-stroke:0.6px #000;">ATAS</div>
<div class="t" style="font-size:13.9px;color:#000;transform:translate(376.75px,647.05px) scaleX(1.0530);font-weight:bold;letter-spacing:0.6px;-webkit-text-stroke:0.6px #000;">PENILAIAN</div>
<div class="t" style="font-size:13.9px;color:#000;transform:translate(466.68px,647.05px) scaleX(1.0812);font-weight:bold;letter-spacing:0.6px;-webkit-text-stroke:0.6px #000;">YANGTELAH</div>
<div class="t" style="font-size:13.9px;color:#000;transform:translate(569.08px,647.05px) scaleX(1.0577);font-weight:bold;letter-spacing:0.6px;-webkit-text-stroke:0.6px #000;">ANDA</div>
<div class="t" style="font-size:13.9px;color:#000;transform:translate(617.96px,647.05px) scaleX(1.0493);font-weight:bold;letter-spacing:0.6px;-webkit-text-stroke:0.6px #000;">BERIKAN</div>
<div class="t" style="font-size:13.9px;color:#000;transform:translate(173.44px,663.95px) scaleX(1.0685);font-weight:bold;letter-spacing:0.6px;-webkit-text-stroke:0.6px #000;">MASUKAN</div>
<div class="t" style="font-size:13.9px;color:#000;transform:translate(258.58px,663.95px) scaleX(1.0505);font-weight:bold;letter-spacing:0.6px;-webkit-text-stroke:0.6px #000;">ANDA</div>
<div class="t" style="font-size:13.9px;color:#000;transform:translate(307.28px,663.95px) scaleX(1.0454);font-weight:bold;letter-spacing:0.6px;-webkit-text-stroke:0.6px #000;">SANGAT</div>
<div class="t" style="font-size:13.9px;color:#000;transform:translate(376.79px,663.95px) scaleX(1.0142);font-weight:bold;letter-spacing:0.6px;-webkit-text-stroke:0.6px #000;">BERMANFAAT</div>
<div class="t" style="font-size:13.9px;color:#000;transform:translate(491.00px,663.95px) scaleX(1.1194);font-weight:bold;letter-spacing:0.6px;-webkit-text-stroke:0.6px #000;">UNTUK</div>
<div class="t" style="font-size:13.9px;color:#000;transform:translate(552.25px,663.95px) scaleX(1.0599);font-weight:bold;letter-spacing:0.6px;-webkit-text-stroke:0.6px #000;">KEMAJUAN</div>
<div class="t" style="font-size:13.9px;color:#000;transform:translate(645.52px,663.95px) scaleX(1.1008);font-weight:bold;letter-spacing:0.6px;-webkit-text-stroke:0.6px #000;">UNIT</div>
<div class="t" style="font-size:13.9px;color:#000;transform:translate(689.75px,663.95px) scaleX(1.0519);font-weight:bold;letter-spacing:0.6px;-webkit-text-stroke:0.6px #000;">KAMI</div>
<div class="t" style="font-size:13.9px;color:#000;transform:translate(164.10px,680.75px) scaleX(1.0050);font-weight:bold;letter-spacing:0.6px;-webkit-text-stroke:0.6px #000;">AGAR</div>
<div class="t" style="font-size:13.9px;color:#000;transform:translate(213.10px,680.75px) scaleX(1.0340);font-weight:bold;letter-spacing:0.6px;-webkit-text-stroke:0.6px #000;">TERUS</div>
<div class="t" style="font-size:13.9px;color:#000;transform:translate(269.78px,680.75px) scaleX(1.0176);font-weight:bold;letter-spacing:0.6px;-webkit-text-stroke:0.6px #000;">MEMPERBAIKI</div>
<div class="t" style="font-size:13.9px;color:#000;transform:translate(387.25px,680.75px) scaleX(1.0515);font-weight:bold;letter-spacing:0.6px;-webkit-text-stroke:0.6px #000;">DAN</div>
<div class="t" style="font-size:13.9px;color:#000;transform:translate(425.93px,680.75px) scaleX(1.0786);font-weight:bold;letter-spacing:0.6px;-webkit-text-stroke:0.6px #000;">MENINGKATKAN</div>
<div class="t" style="font-size:13.9px;color:#000;transform:translate(559.73px,680.75px) scaleX(1.0740);font-weight:bold;letter-spacing:0.6px;-webkit-text-stroke:0.6px #000;">KUALITAS</div>
<div class="t" style="font-size:13.9px;color:#000;transform:translate(644.73px,680.75px) scaleX(1.0758);font-weight:bold;letter-spacing:0.6px;-webkit-text-stroke:0.6px #000;">PELAYANAN</div>
<div class="t" style="font-size:13.9px;color:#000;transform:translate(375.95px,697.95px) scaleX(1.0607);font-weight:bold;letter-spacing:0.6px;-webkit-text-stroke:0.6px #000;">BAGI</div>
<div class="t" style="font-size:13.9px;color:#000;transform:translate(418.94px,697.95px) scaleX(1.0689);font-weight:bold;letter-spacing:0.6px;-webkit-text-stroke:0.6px #000;">MASYARAKAT</div>
</footer>
</body>
</html>
